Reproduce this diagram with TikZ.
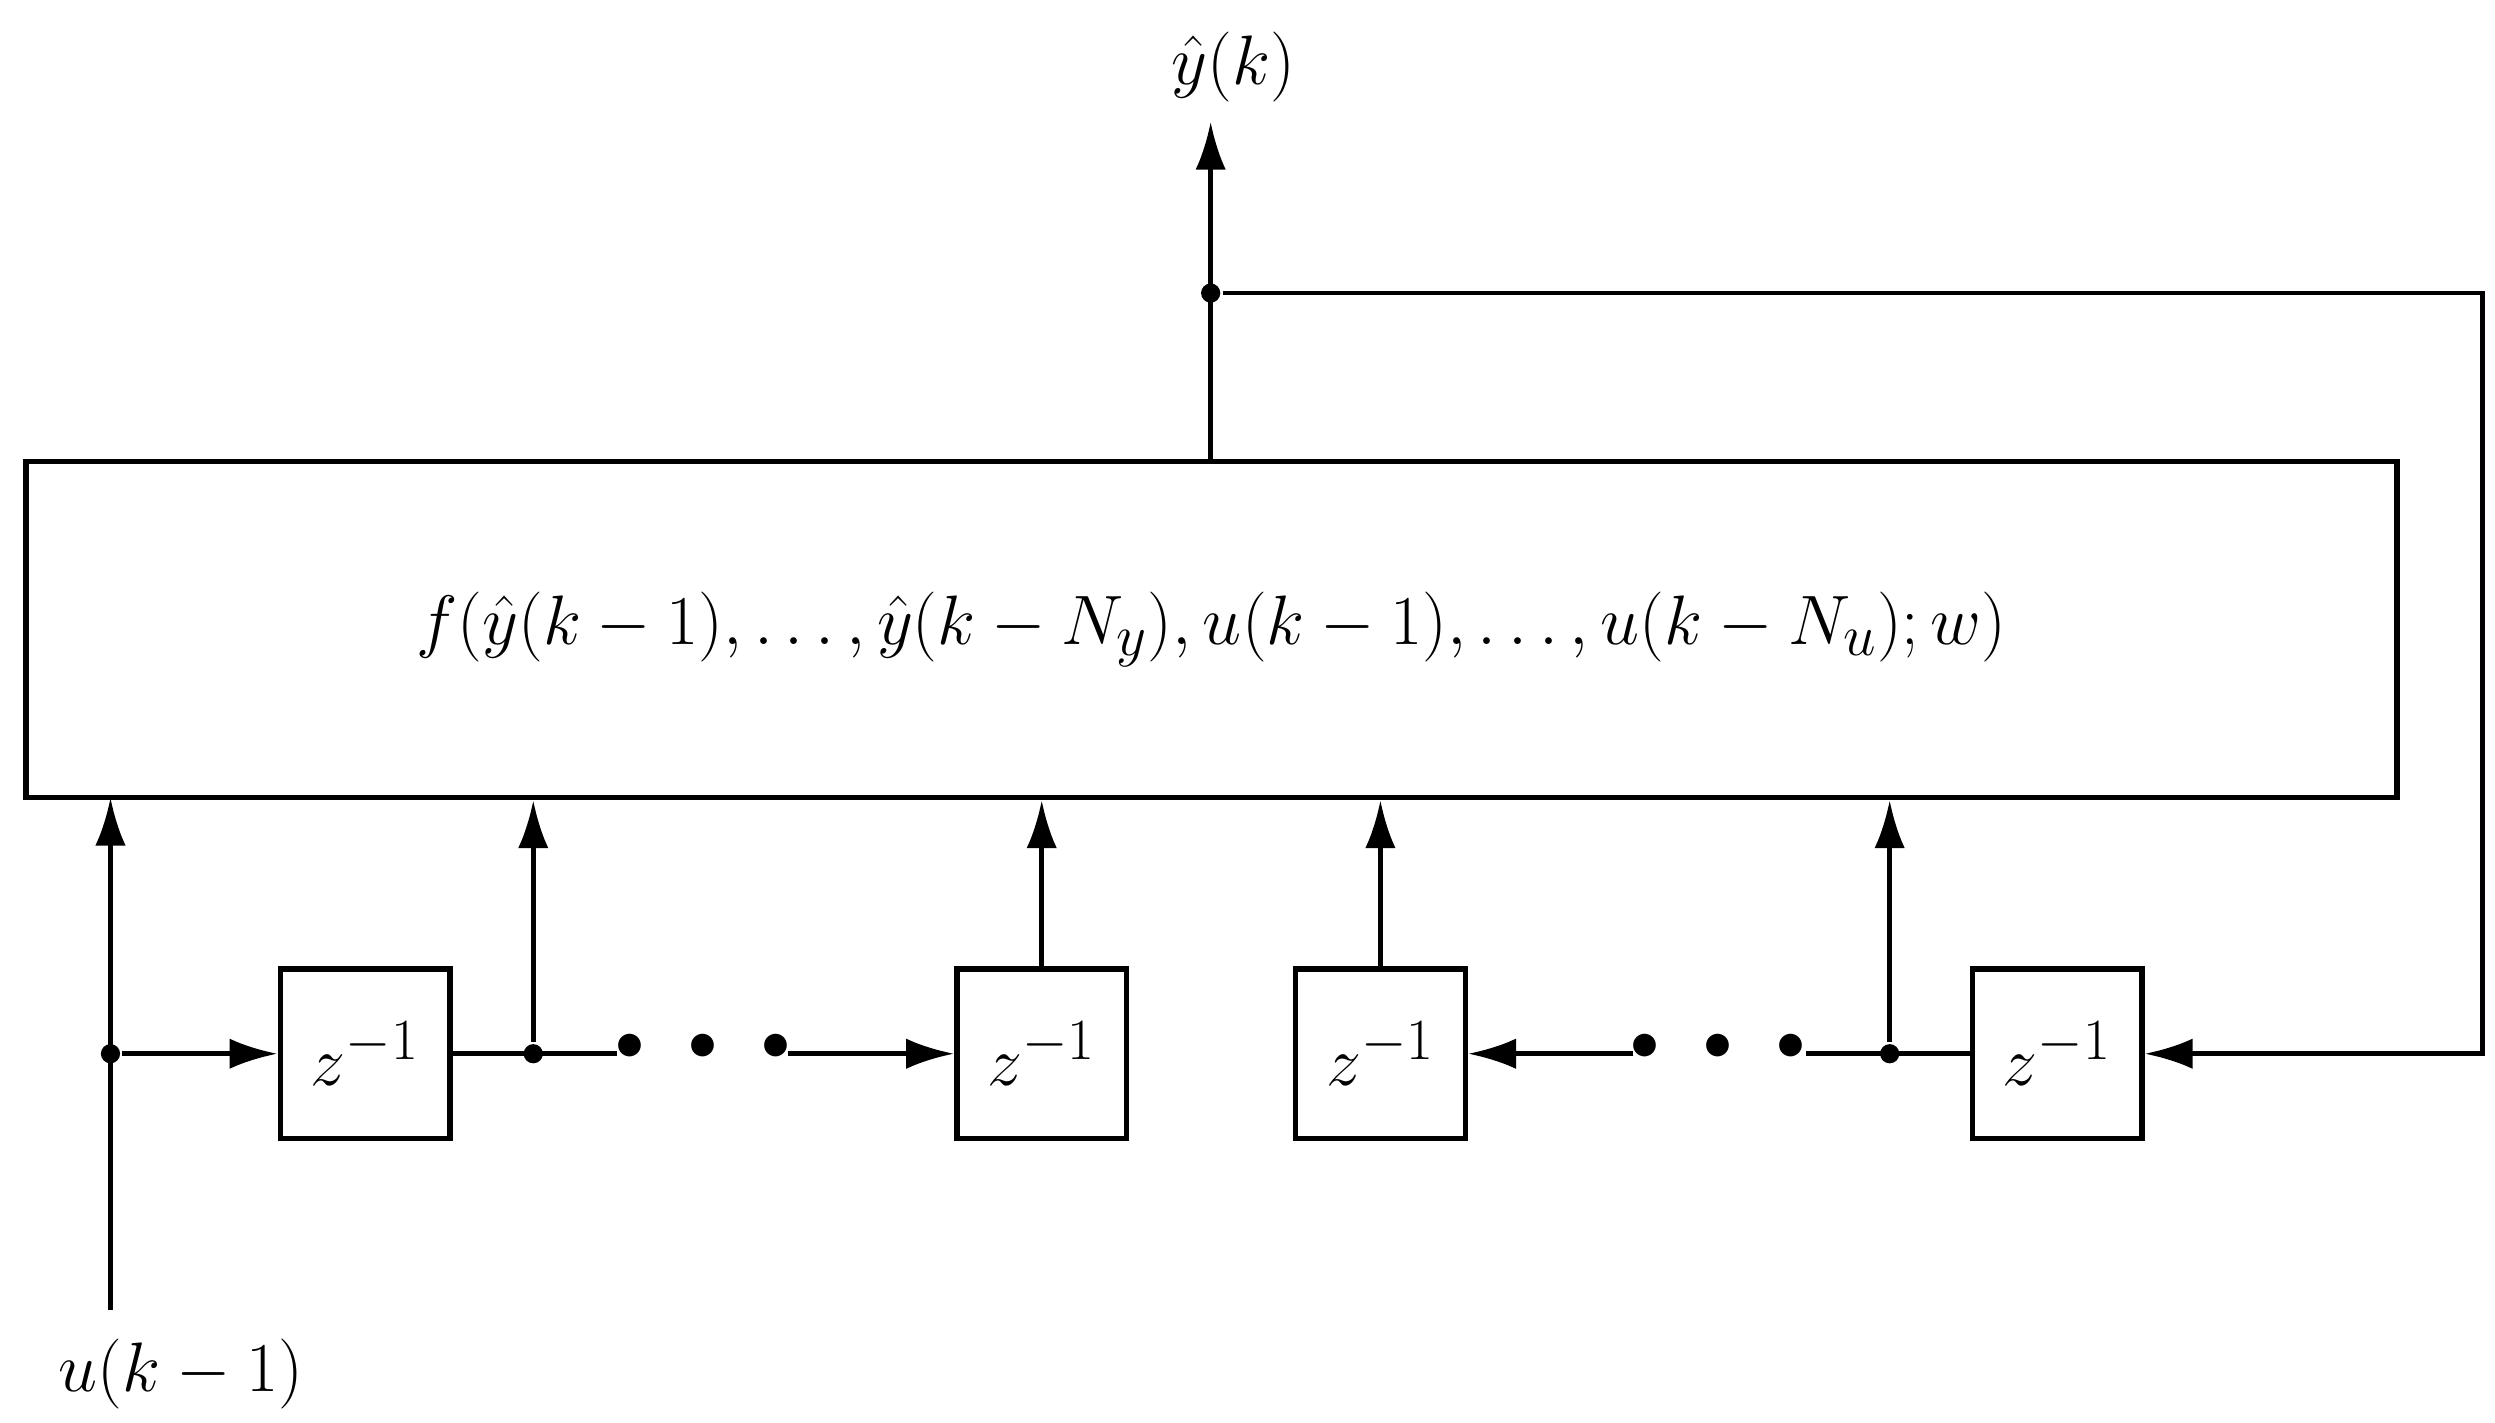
\documentclass[tikz,border=0pt]{standalone}
\usetikzlibrary{arrows.meta}
\begin{document}
\begin{tikzpicture}[x=0.02cm,y=-0.02cm,line width=1.7pt,
  every node/.style={font=\fontsize{29.5}{34}\selectfont},
  arr/.style={-{Latex[length=0.6cm,width=0.38cm]}},
  del/.style={draw,line width=1.9pt,minimum width=2.12cm,minimum height=2.12cm,inner sep=0pt},
  dot/.style={circle,fill,inner sep=0pt,minimum size=0.24cm},
  bigdots/.style={font=\fontsize{36}{36}\selectfont,inner sep=0pt}]
\useasboundingbox (0,0) rectangle (1558,888);
\node[draw,line width=1.9pt,minimum width=29.62cm,minimum height=4.2cm,inner sep=0pt] (f) at (756.5,393)
  {$f(\hat y(k-1),\ldots,\hat y(k-N_y),u(k-1),\ldots,u(k-N_u);w)$};
\node (out) at (770,42) {$\hat y(k)$};
\coordinate (otip) at (756,76);
\node[dot] (d0) at (756,183) {};
\draw[arr] (f.north -| d0) -- (otip);
\coordinate (c1) at (1550,183);
\coordinate (c2) at (1550,658);
\node[del] (z1) at (228,658) {$z^{-1}$};
\node[del] (z2) at (650.5,658) {$z^{-1}$};
\node[del] (z3) at (862,658) {$z^{-1}$};
\node[del] (z4) at (1284.5,658) {$z^{-1}$};
\draw[arr] (d0) -- (c1) -- (c2) -- (z4.east);
\node (u) at (113,858) {$u(k-1)$};
\coordinate (ub) at (69,818);
\coordinate (fb1) at (69,498);
\node[dot] (d1) at (69,658) {};
\draw[arr] (ub) -- (fb1);
\draw[arr] (d1) -- (z1.west);
\coordinate (l1e) at (385,658);
\node[dot] (d2) at (333,658) {};
\draw (z1.east) -- (l1e);
\draw[arr] (d2) -- (d2 |- f.south);
\node[bigdots] at (439,658) {\textbullet\textbullet\textbullet};
\coordinate (l2s) at (492,658);
\draw[arr] (l2s) -- (z2.west);
\draw[arr] (z2.north) -- (z2.north |- f.south);
\draw[arr] (z3.north) -- (z3.north |- f.south);
\coordinate (l3s) at (1020,658);
\draw[arr] (l3s) -- (z3.east);
\node[bigdots] at (1073,658) {\textbullet\textbullet\textbullet};
\coordinate (l4s) at (1128,658);
\node[dot] (d3) at (1180,658) {};
\draw (l4s) -- (z4.west);
\draw[arr] (d3) -- (d3 |- f.south);
\end{tikzpicture}
\end{document}
